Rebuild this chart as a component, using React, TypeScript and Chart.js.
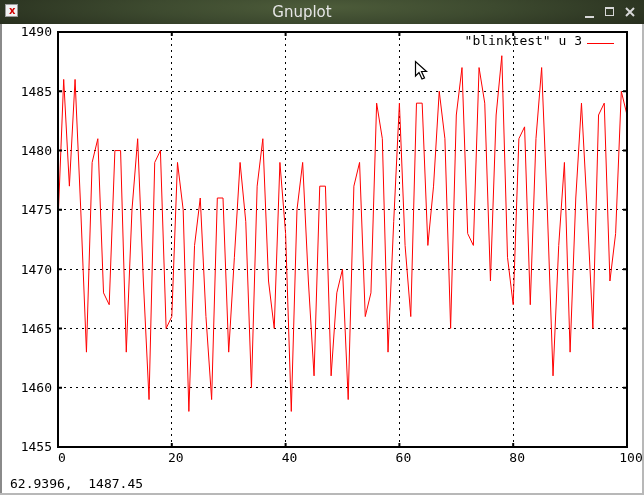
import React, { useEffect, useRef } from "react";
import { Chart, registerables } from "chart.js";

Chart.register(...registerables);

const windowTitle = "Gnuplot";
const seriesLabel = '"blinktest" u 3';
const statusText = "62.9396,  1487.45";
const xTickValues = [0, 20, 40, 60, 80, 100];
const yTickValues = [1455, 1460, 1465, 1470, 1475, 1480, 1485, 1490];
const blinkValues = [
  1474, 1486, 1477, 1486, 1475, 1463, 1479, 1481, 1468, 1467,
  1480, 1480, 1463, 1475, 1481, 1469, 1459, 1479, 1480, 1465,
  1466, 1479, 1475, 1458, 1472, 1476, 1466, 1459, 1476, 1476,
  1463, 1471, 1479, 1474, 1460, 1477, 1481, 1469, 1465, 1479,
  1473, 1458, 1475, 1479, 1469, 1461, 1477, 1477, 1461, 1468,
  1470, 1459, 1477, 1479, 1466, 1468, 1484, 1481, 1463, 1474,
  1484, 1472, 1466, 1484, 1484, 1472, 1477, 1485, 1481, 1465,
  1483, 1487, 1473, 1472, 1487, 1484, 1469, 1483, 1488, 1471,
  1467, 1481, 1482, 1467, 1481, 1487, 1475, 1461, 1472, 1479,
  1463, 1476, 1484, 1475, 1465, 1483, 1484, 1469, 1473, 1485,
  1483,
];

const FONT = '"DejaVu Sans Mono", monospace';

const framePlugin = {
  id: "gnuplotFrame",
  afterDatasetsDraw(chart: any) {
    const { ctx, chartArea, scales } = chart;
    const { left, right, top, bottom } = chartArea;
    ctx.save();
    ctx.strokeStyle = "#000";
    ctx.lineWidth = 2;
    ctx.setLineDash([]);
    const tl = 4;
    ctx.beginPath();
    for (const v of xTickValues) {
      const px = scales.x.getPixelForValue(v);
      ctx.moveTo(px, bottom);
      ctx.lineTo(px, bottom - tl);
      ctx.moveTo(px, top);
      ctx.lineTo(px, top + tl);
    }
    for (const v of yTickValues) {
      const py = scales.y.getPixelForValue(v);
      ctx.moveTo(left, py);
      ctx.lineTo(left + tl, py);
      ctx.moveTo(right, py);
      ctx.lineTo(right - tl, py);
    }
    ctx.stroke();
    ctx.strokeRect(left, top, right - left, bottom - top);
    const ds = chart.data.datasets[0];
    ctx.font = "13px " + FONT;
    ctx.fillStyle = "#000";
    ctx.textAlign = "right";
    ctx.textBaseline = "middle";
    ctx.fillText(ds.label, right - 45, top + 10);
    ctx.strokeStyle = ds.borderColor;
    ctx.lineWidth = 1;
    ctx.beginPath();
    ctx.moveTo(right - 40, top + 11.5);
    ctx.lineTo(right - 13, top + 11.5);
    ctx.stroke();
    ctx.restore();
  },
};

function GnuplotChart() {
  const ref = useRef<HTMLCanvasElement | null>(null);
  useEffect(() => {
    if (!ref.current) return;
    const points = blinkValues.map((v, i) => ({ x: i, y: v }));
    const chart = new Chart(ref.current, {
      type: "line",
      data: {
        datasets: [
          {
            label: seriesLabel,
            data: points,
            borderColor: "#ff0000",
            borderWidth: 1,
            pointRadius: 0,
            tension: 0,
            fill: false,
          },
        ],
      },
      options: {
        animation: false,
        responsive: false,
        maintainAspectRatio: false,
        layout: { padding: { left: 0, right: 17, top: 32, bottom: 0 } },
        plugins: { legend: { display: false }, tooltip: { enabled: false } },
        scales: {
          x: {
            type: "linear",
            min: 0,
            max: 100,
            afterBuildTicks: (s: any) => {
              s.ticks = xTickValues.map((v) => ({ value: v }));
            },
            afterFit: (s: any) => {
              s.height = 48;
            },
            ticks: {
              color: "#000",
              font: { family: FONT, size: 13 },
              padding: 4,
              labelOffset: 4,
              maxRotation: 0,
              autoSkip: false,
              callback: (v: any) => String(v),
            },
            grid: {
              color: "#000",
              lineWidth: 1,
              drawTicks: false,
            },
            border: { display: false, dash: [2, 4] },
          },
          y: {
            type: "linear",
            min: 1455,
            max: 1490,
            afterBuildTicks: (s: any) => {
              s.ticks = yTickValues.map((v) => ({ value: v }));
            },
            afterFit: (s: any) => {
              s.width = 58;
            },
            ticks: {
              color: "#000",
              font: { family: FONT, size: 13 },
              padding: 6,
              labelOffset: 1,
              autoSkip: false,
              callback: (v: any) => String(v),
            },
            grid: {
              color: "#000",
              lineWidth: 1,
              drawTicks: false,
            },
            border: { display: false, dash: [2, 4] },
          },
        },
      },
      plugins: [framePlugin],
    });
    return () => chart.destroy();
  }, []);
  return (
    <canvas
      ref={ref}
      width={644}
      height={495}
      style={{ position: "absolute", left: 0, top: 0, width: 644, height: 495 }}
    />
  );
}

export default function App() {
  useEffect(() => {
    document.body.style.margin = "0";
  }, []);
  return (
    <div
      style={{
        position: "relative",
        width: 644,
        height: 495,
        background: "#fff",
        overflow: "hidden",
        fontFamily: FONT,
      }}
    >
      <GnuplotChart />
      <div style={{ position: "absolute", left: 0, top: 24, width: 2, height: 471, background: "#8a8a8a" }} />
      <div style={{ position: "absolute", right: 0, top: 24, width: 2, height: 471, background: "#b8b8b8" }} />
      <div style={{ position: "absolute", left: 0, bottom: 0, width: 644, height: 2, background: "#b8b8b8" }} />
      <div
        style={{
          position: "absolute",
          left: 0,
          top: 0,
          width: 644,
          height: 24,
          background:
            "radial-gradient(ellipse 60% 140% at 50% 30%, #4d5c3a 0%, #3d4a2f 45%, #262d1d 100%)",
        }}
      >
        <div
          style={{
            position: "absolute",
            left: 5,
            top: 4,
            width: 13,
            height: 13,
            background: "#f2f2f2",
            border: "1px solid #9a9a9a",
            boxSizing: "border-box",
          }}
        >
          <div style={{ position: "absolute", left: 3, top: 0, fontSize: 10, lineHeight: "11px", color: "#d00000", fontWeight: "bold", fontFamily: "DejaVu Sans, sans-serif" }}>x</div>
        </div>
        <div
          style={{
            position: "absolute",
            left: 0,
            width: 604,
            top: 2,
            textAlign: "center",
            color: "#e6e6e6",
            fontFamily: '"DejaVu Sans", sans-serif',
            fontSize: 15,
            lineHeight: "20px",
          }}
        >
          {windowTitle}
        </div>
        <div style={{ position: "absolute", left: 585, top: 16, width: 9, height: 2, background: "#d8d8d8" }} />
        <div style={{ position: "absolute", left: 605, top: 7, width: 9, height: 9, border: "1px solid #d8d8d8", borderTopWidth: 2, boxSizing: "border-box" }} />
        <svg style={{ position: "absolute", left: 625, top: 7 }} width={10} height={10}>
          <path d="M1 1 L9 9 M9 1 L1 9" stroke="#d8d8d8" strokeWidth={2} />
        </svg>
      </div>
      <div
        style={{
          position: "absolute",
          left: 10,
          top: 476,
          fontSize: 13,
          lineHeight: "16px",
          whiteSpace: "pre",
          color: "#000",
          fontFamily: FONT,
        }}
      >
        {statusText}
      </div>
      <svg style={{ position: "absolute", left: 414, top: 60 }} width={16} height={24}>
        <path
          d="M1.5 1.5 L1.5 16 L5 12.5 L8 19 L10.5 18 L7.5 11.5 L12.5 11.5 Z"
          fill="#fff"
          stroke="#000"
          strokeWidth={1.2}
          strokeLinejoin="miter"
        />
      </svg>
    </div>
  );
}
